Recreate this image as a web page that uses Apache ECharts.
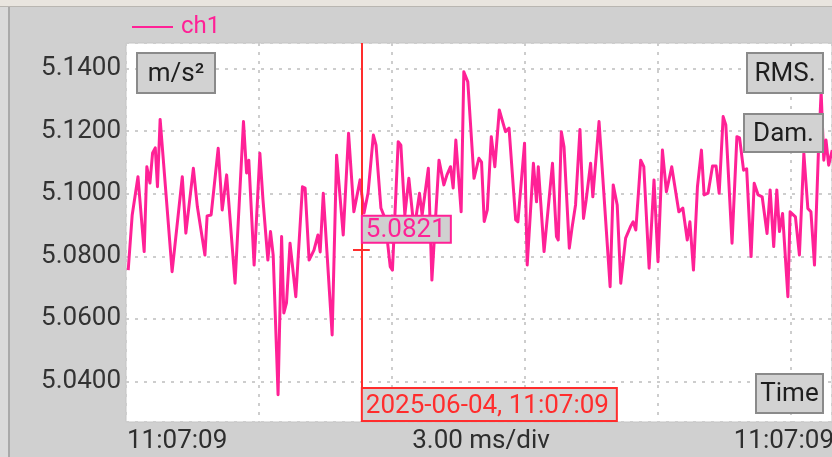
<!DOCTYPE html>
<html>
<head>
<meta charset="utf-8">
<script src="https://cdn.jsdelivr.net/npm/echarts@6/dist/echarts.min.js"></script>
<style>
  html, body { margin: 0; padding: 0; background: #d0d0d0; }
  #chart { width: 832px; height: 457px; }
</style>
</head>
<body>
<div id="chart"></div>
<script>
// Sample times (ms from the left edge of the trace) and acceleration readings (m/s²)
const timeMs = [0.05,0.14,0.27,0.41,0.47,0.54,0.60,0.66,0.71,0.77,1.04,1.27,1.35,1.52,1.61,1.78,1.83,1.92,2.08,2.17,
  2.27,2.46,2.65,2.72,2.77,2.89,3.02,3.09,3.20,3.26,3.32,3.43,3.51,3.56,3.62,3.70,3.83,3.98,4.04,4.13,
  4.24,4.33,4.38,4.45,4.65,4.75,4.90,5.02,5.14,5.28,5.37,5.46,5.58,5.64,5.75,5.84,5.96,6.01,6.14,6.20,
  6.29,6.38,6.50,6.62,6.68,6.82,6.90,7.06,7.17,7.24,7.32,7.38,7.44,7.56,7.62,7.71,7.85,7.96,8.02,8.08,
  8.15,8.24,8.32,8.42,8.56,8.64,8.79,8.84,8.99,9.05,9.19,9.26,9.30,9.43,9.62,9.71,9.75,9.82,9.88,10.00,
  10.06,10.14,10.24,10.32,10.38,10.48,10.53,10.67,10.92,10.99,11.08,11.16,11.27,11.38,11.44,11.50,11.61,11.68,11.80,11.91,
  12.00,12.10,12.19,12.31,12.47,12.56,12.66,12.72,12.80,12.89,12.98,13.04,13.13,13.23,13.31,13.38,13.47,13.53,13.67,13.78,
  13.84,13.93,14.00,14.10,14.17,14.26,14.35,14.46,14.53,14.61,14.68,14.74,14.81,14.93,14.98,15.10,15.19,15.29,15.38,15.45,
  15.53,15.62,15.68,15.74,15.79,15.85,15.93];

const ch1 = [5.0756,5.0932,5.1054,5.0815,5.1086,5.1034,5.1130,5.1146,5.1022,5.1237,5.0751,5.1054,5.0874,5.1081,5.0958,5.0804,5.0929,5.0932,5.1145,5.0948,
  5.1060,5.0714,5.1230,5.1066,5.1107,5.0772,5.1129,5.0980,5.0788,5.0879,5.0804,5.0358,5.0863,5.0619,5.0651,5.0842,5.0671,5.1022,5.1018,5.0788,
  5.0820,5.0868,5.0814,5.1001,5.0549,5.1123,5.0868,5.1193,5.0942,5.1044,5.0938,5.1002,5.1187,5.1155,5.0954,5.0922,5.0767,5.0756,5.1166,5.1155,
  5.0932,5.1049,5.0884,5.1001,5.0932,5.1081,5.0724,5.1107,5.1028,5.1060,5.1086,5.1018,5.1171,5.0942,5.1389,5.1357,5.1049,5.1113,5.1101,5.0911,
  5.0948,5.1182,5.1086,5.1267,5.1198,5.1209,5.0916,5.0910,5.1161,5.0772,5.1097,5.0974,5.1086,5.0815,5.1097,5.0863,5.0852,5.1198,5.1150,5.0826,
  5.0890,5.0964,5.1205,5.0921,5.0980,5.1097,5.0990,5.1230,5.0703,5.1028,5.0964,5.0714,5.0858,5.0895,5.0910,5.0884,5.1107,5.1086,5.0762,5.1044,
  5.0783,5.1139,5.1006,5.1086,5.0942,5.0954,5.0852,5.0910,5.0756,5.1022,5.1139,5.0996,5.1002,5.1088,5.1088,5.1001,5.1246,5.1219,5.0842,5.1182,
  5.1178,5.1075,5.1079,5.0799,5.1033,5.0996,5.0990,5.0873,5.1012,5.0831,5.1012,5.0879,5.0937,5.0671,5.0942,5.0926,5.0804,5.1129,5.0953,5.0942,
  5.0772,5.1139,5.1324,5.1107,5.1171,5.1091,5.1139];

// Cursor reading
const cursorTimeMs = 5.32;
const cursorValue = 5.0821;
const cursorStamp = '2025-06-04, 11:07:09';

// Bottom axis captions
const xCaptions = ['11:07:09', '3.00 ms/div', '11:07:09'];

// Axis ranges
const yMin = 5.0271, yMax = 5.1481;
const xMin = 0, xMax = 15.925, xStep = 3;

const FONT = 'Roboto, "Noto Sans", sans-serif';
const PINK = '#ff2196';
const RED = '#ff2d2d';
const TOP = 100;

const chart = echarts.init(document.getElementById('chart'), null, { renderer: 'canvas' });

const seriesData = timeMs.map((t, i) => [t, ch1[i]]);

function button(x, y, w, h, label) {
  return {
    type: 'group', x: x, y: y,
    children: [
      { type: 'rect', z: TOP, shape: { x: 0, y: 0, width: w, height: h },
        style: { fill: '#d2d2d2', stroke: '#8a8a8a', lineWidth: 2 } },
      { type: 'text', z: TOP + 1, x: w / 2, y: h / 2 + 1,
        style: { text: label, font: '26px ' + FONT, fill: '#1e1e1e', align: 'center', verticalAlign: 'middle' } }
    ]
  };
}

chart.setOption({
  backgroundColor: '#d0d0d0',
  animation: false,
  grid: { left: 126, right: 0, top: 43, bottom: 35, show: true, backgroundColor: '#ffffff', borderColor: '#c4c4c4', borderWidth: 1 },
  legend: {
    left: 127, top: 10,
    icon: 'rect', itemWidth: 41, itemHeight: 2,
    itemGap: 0,
    textStyle: { color: PINK, fontSize: 24, fontFamily: FONT, padding: [0, 0, 0, 3] },
    data: ['ch1']
  },
  xAxis: {
    type: 'value', min: xMin, max: xMax, interval: xStep,
    axisLine: { show: false }, axisTick: { show: false }, axisLabel: { show: false },
    splitLine: { show: true, lineStyle: { color: '#cdcdcd', width: 2, type: [3, 6] } }
  },
  yAxis: {
    type: 'value', min: yMin, max: yMax, splitNumber: 5,
    axisLine: { show: false }, axisTick: { show: false },
    axisLabel: {
      showMinLabel: false, showMaxLabel: false, margin: 5,
      color: '#333333', fontSize: 26, fontFamily: FONT,
      formatter: v => v.toFixed(4)
    },
    splitLine: { show: true, lineStyle: { color: '#cdcdcd', width: 2, type: [3, 6] } }
  },
  series: [{
    name: 'ch1', type: 'line', data: seriesData,
    showSymbol: false, symbol: 'none',
    lineStyle: { color: PINK, width: 3, join: 'round' },
    itemStyle: { color: PINK },
    z: 3,
    markLine: {
      silent: true, symbol: 'none', animation: false,
      label: { show: false },
      data: [
        { xAxis: cursorTimeMs, lineStyle: { color: RED, width: 2, type: 'solid' } },
        [ { coord: [cursorTimeMs - 0.2, cursorValue], lineStyle: { color: RED, width: 2, type: 'solid' } },
          { coord: [cursorTimeMs + 0.18, cursorValue] } ]
      ]
    }
  }]
});

// Overlay: window chrome, unit/measure buttons, cursor read-outs and time captions
const cur = chart.convertToPixel({ gridIndex: 0 }, [cursorTimeMs, cursorValue]);
const plotBottom = 457 - 35;

chart.setOption({
  graphic: [
    { type: 'rect', z: TOP, shape: { x: 0, y: 0, width: 832, height: 6 }, style: { fill: '#e9e5df' } },
    { type: 'rect', z: TOP, shape: { x: 0, y: 6, width: 832, height: 1 }, style: { fill: '#b9b6b1' } },
    { type: 'rect', z: TOP, shape: { x: 8, y: 7, width: 2, height: 450 }, style: { fill: '#a9a9a9' } },
    { type: 'rect', z: TOP, shape: { x: 0, y: 7, width: 8, height: 450 }, style: { fill: '#dadada' } },

    button(137, 53, 78, 40, 'm/s²'),
    button(747, 53, 76, 40, 'RMS.'),
    button(744, 114, 79, 38, 'Dam.'),
    button(756, 374, 67, 39, 'Time'),

    { type: 'group', x: cur[0], y: cur[1] - 34, children: [
      { type: 'rect', z: TOP, shape: { x: 0, y: 0, width: 89, height: 27 },
        style: { fill: '#d0d0d0', stroke: PINK, lineWidth: 2 } },
      { type: 'text', z: TOP + 1, x: 4, y: 15,
        style: { text: cursorValue.toFixed(4), font: '26px ' + FONT, fill: PINK, verticalAlign: 'middle' } }
    ]},
    { type: 'group', x: cur[0], y: plotBottom - 34, children: [
      { type: 'rect', z: TOP, shape: { x: 0, y: 0, width: 255, height: 33 },
        style: { fill: '#d3d3d3', stroke: RED, lineWidth: 2 } },
      { type: 'text', z: TOP + 1, x: 4, y: 18,
        style: { text: cursorStamp, font: '26px ' + FONT, fill: RED, verticalAlign: 'middle' } }
    ]},

    { type: 'text', z: TOP, x: 127, y: 441,
      style: { text: xCaptions[0], font: '26px ' + FONT, fill: '#2e2e2e', verticalAlign: 'middle' } },
    { type: 'text', z: TOP, x: 481, y: 441,
      style: { text: xCaptions[1], font: '26px ' + FONT, fill: '#2e2e2e', align: 'center', verticalAlign: 'middle' } },
    { type: 'text', z: TOP, x: 834, y: 441,
      style: { text: xCaptions[2], font: '26px ' + FONT, fill: '#2e2e2e', align: 'right', verticalAlign: 'middle' } }
  ]
});
</script>
</body>
</html>
